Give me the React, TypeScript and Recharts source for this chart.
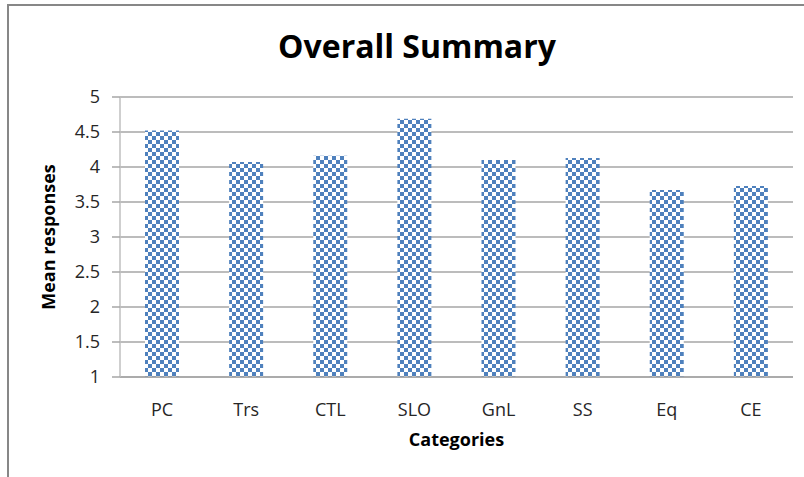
import React from 'react';
import { BarChart, Bar, XAxis, YAxis, CartesianGrid } from 'recharts';

const categories = ['PC', 'Trs', 'CTL', 'SLO', 'GnL', 'SS', 'Eq', 'CE'];
const meanResponses = [4.52, 4.07, 4.16, 4.69, 4.1, 4.13, 3.67, 3.73];
const yTicks = [1, 1.5, 2, 2.5, 3, 3.5, 4, 4.5, 5];

const data = categories.map((name, i) => ({ name, value: meanResponses[i] }));

const FONT = '"Open Sans", "Noto Sans", sans-serif';

const App: React.FC = () => {
  return (
    <div style={{ position: 'absolute', left: 0, top: 0, width: 804, height: 477, background: '#fff', overflow: 'hidden' }}>
      {/* frame: only top and left edges show in the picture */}
      <div
        style={{
          position: 'absolute',
          left: 7,
          top: 4,
          right: -10,
          bottom: -10,
          borderTop: '2px solid #878787',
          borderLeft: '2px solid #878787',
        }}
      />
      <svg width={804} height={477} style={{ position: 'absolute', left: 0, top: 0 }}>
        <text x={417} y={58} textAnchor="middle" fontFamily={FONT} fontWeight="bold" fontSize={32} fill="#000">
          Overall Summary
        </text>
      </svg>
      <div style={{ position: 'absolute', left: 0, top: 0 }}>
        <BarChart width={804} height={477} data={data} margin={{ top: 97, right: 11, bottom: 70, left: 0 }}>
          <defs>
            <pattern id="checker" width={8} height={8} patternUnits="userSpaceOnUse">
              <rect x={0} y={0} width={8} height={8} fill="#ffffff" />
              <rect x={0} y={0} width={4} height={4} fill="#4f81bd" />
              <rect x={4} y={4} width={4} height={4} fill="#4f81bd" />
            </pattern>
          </defs>
          <CartesianGrid horizontal vertical={false} stroke="#a6a6a6" strokeWidth={1.5} />
          <XAxis
            dataKey="name"
            height={30}
            axisLine={{ stroke: '#a6a6a6', strokeWidth: 1.5 }}
            tickLine={false}
            tickSize={0}
            tickMargin={26}
            tick={{ fill: '#262626', fontSize: 18, fontFamily: FONT }}
            label={{
              content: (props: any) => {
                const vb = props.viewBox || { x: 120, width: 673 };
                return (
                  <text x={vb.x + vb.width / 2} y={446} textAnchor="middle" fontFamily={FONT} fontWeight="bold" fontSize={18} fill="#000">
                    Categories
                  </text>
                );
              },
            }}
          />
          <YAxis
            width={120}
            domain={[1, 5]}
            ticks={yTicks}
            interval={0}
            axisLine={{ stroke: '#bfbfbf', strokeWidth: 1.5 }}
            tickLine={{ stroke: '#a6a6a6', strokeWidth: 1.5 }}
            tickSize={8}
            tickMargin={12}
            tick={{ fill: '#262626', fontSize: 18, fontFamily: FONT }}
            label={{
              content: (props: any) => {
                const vb = props.viewBox || { x: 0, y: 97, height: 280 };
                const cx = 55;
                const cy = vb.y + vb.height / 2;
                return (
                  <text
                    x={cx}
                    y={cy}
                    transform={`rotate(-90 ${cx} ${cy})`}
                    textAnchor="middle"
                    fontFamily={FONT}
                    fontWeight="bold"
                    fontSize={18}
                    fill="#000"
                  >
                    Mean responses
                  </text>
                );
              },
            }}
          />
          <Bar dataKey="value" barSize={34} fill="url(#checker)" isAnimationActive={false} />
        </BarChart>
      </div>
    </div>
  );
};

export default App;
